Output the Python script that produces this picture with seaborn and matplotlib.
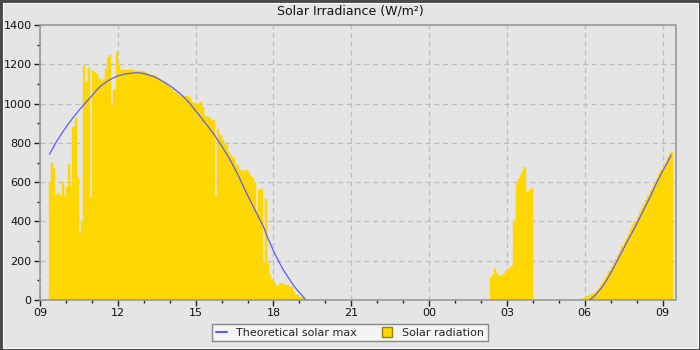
import numpy as np
import pandas as pd
import matplotlib
matplotlib.use("Agg")
import matplotlib.pyplot as plt
import seaborn as sns
from matplotlib.lines import Line2D
from matplotlib.patches import Rectangle
from matplotlib.ticker import MultipleLocator

# ---------------- data ----------------
title = "Solar Irradiance (W/m²)"
x_tick_labels = ["09", "12", "15", "18", "21", "00", "03", "06", "09"]
y_tick_values = [0, 200, 400, 600, 800, 1000, 1200, 1400]
legend_labels = ["Theoretical solar max", "Solar radiation"]

sample_minutes = 5  # solar radiation logged every 5 minutes

# day 1, starting 09:20
rad_day_start = ("09:20", 0)
rad_day = [600, 700, 670, 535, 543, 535, 599, 529, 576, 690,
           582, 880, 928, 619, 340, 400, 1190, 1110, 1180, 520,
           1165, 1160, 1150, 1125, 1115, 1125, 1175, 1230, 1245, 990,
           1070, 1265, 1200, 1172, 1170, 1170, 1170, 1170, 1170, 1170,
           1168, 1168, 1166, 1164, 1162, 1157, 1152, 1148, 1145, 1138,
           1130, 1120, 1115, 1110, 1100, 1090, 1080, 1072, 1060, 1052,
           1045, 1038, 1035, 1038, 1040, 1030, 1010, 1005, 1000, 1000,
           1010, 984, 935, 933, 930, 913, 915, 526, 870, 840,
           814, 800, 789, 755, 740, 721, 687, 680, 662, 658,
           658, 662, 645, 630, 620, 602, 458, 560, 565, 190,
           513, 187, 125, 100, 85, 73, 78, 85, 82, 78,
           78, 68, 68, 42, 25, 25, 15, 12, 8, 5]

# night, starting 02:20 next day
rad_night_start = ("02:20", 1)
rad_night = [115, 125, 160, 135, 122, 123, 133, 150, 159, 165,
             175, 400, 590, 615, 636, 655, 675, 548, 560, 572]

# next morning, starting 05:50
rad_morning_start = ("05:50", 1)
rad_morning = [3, 8, 17, 22, 25, 30, 36, 45, 60, 75,
               92, 105, 123, 148, 168, 187, 209, 230, 252, 273,
               295, 316, 338, 359, 381, 402, 424, 446, 467, 489,
               510, 532, 553, 575, 596, 618, 640, 661, 683, 704,
               726, 747, 755]

# theoretical maximum curve (first day, then next morning)
theo_day_times = ["09:22", "09:38", "09:54", "10:05", "10:17", "10:30", "10:44",
                  "11:00", "11:11", "11:22", "11:34", "11:47", "11:59", "12:15",
                  "12:32", "12:45", "12:55", "13:08", "13:22", "13:34", "13:45",
                  "13:57", "14:08", "14:20", "14:32", "14:44", "14:55", "15:08",
                  "15:24", "15:41", "16:00", "16:20", "16:40", "16:58", "17:18",
                  "17:37", "17:48", "18:00", "18:12", "18:23", "18:35", "18:46",
                  "18:55", "19:02", "19:08", "19:13"]
theo_day_vals = [742, 806, 860, 895, 930, 965, 1001,
                 1040, 1069, 1092, 1111, 1128, 1140, 1150,
                 1155, 1157, 1155, 1148, 1138, 1126, 1112,
                 1096, 1079, 1058, 1035, 1007, 977, 942,
                 897, 848, 785, 713, 628, 543, 455,
                 373, 310, 250, 197, 153, 112, 76,
                 50, 34, 18, 5]
theo_morning_times = ["06:11", "06:20", "06:28", "06:40", "06:51", "07:02", "07:14",
                      "07:26", "07:38", "07:50", "08:01", "08:12", "08:24", "08:36",
                      "08:47", "08:58", "09:10", "09:20"]
theo_morning_vals = [0, 15, 34, 65, 102, 145, 195,
                     246, 297, 345, 390, 440, 492, 548,
                     600, 648, 695, 738]


def to_hours(hhmm, day):
    h, m = map(int, hhmm.split(":"))
    return h + m / 60.0 - 9.0 + 24.0 * day


# ---------------- style ----------------
sns.set_theme(style="ticks")
plt.rcParams["font.family"] = ["DejaVu Sans"]

BG = "#e5e5e5"
GOLD = "#ffd700"
BLUE = "#5c5cff"
SPINE = "#999999"

fig = plt.figure(figsize=(7, 3.5), dpi=100, facecolor=BG)
ax = fig.add_axes([40 / 700, 1 - 300 / 350, 635.5 / 700, 275 / 350])
ax.set_facecolor(BG)

# bars
for (start, day), vals in [(rad_day_start, rad_day),
                           (rad_night_start, rad_night),
                           (rad_morning_start, rad_morning)]:
    t0 = to_hours(start, day)
    times = t0 + np.arange(len(vals)) * sample_minutes / 60.0
    ax.bar(times, vals, width=sample_minutes / 60.0, align="edge",
           color=GOLD, edgecolor=GOLD, linewidth=0.3, zorder=2)

# theoretical line
df_line = pd.DataFrame({
    "t": [to_hours(s, 0) for s in theo_day_times] + [to_hours(s, 1) for s in theo_morning_times],
    "v": theo_day_vals + theo_morning_vals,
    "seg": ["a"] * len(theo_day_times) + ["b"] * len(theo_morning_times),
})
sns.lineplot(data=df_line, x="t", y="v", units="seg", estimator=None, sort=False,
             color=BLUE, linewidth=0.9, ax=ax, legend=False, zorder=3)

# axes
ax.set_xlim(0, 24.5)
ax.set_ylim(0, 1400)
ax.set_xticks(np.arange(0, 25, 3))
ax.set_xticklabels(x_tick_labels)
ax.xaxis.set_minor_locator(MultipleLocator(1))
ax.set_yticks(y_tick_values)
ax.set_yticklabels([str(v) for v in y_tick_values])
ax.yaxis.set_minor_locator(MultipleLocator(100))
ax.set_xlabel("")
ax.set_ylabel("")
ax.tick_params(which="major", direction="out", length=4, width=1, color="#222222",
               labelsize=8, labelcolor="#111111", pad=2)
ax.tick_params(which="minor", direction="out", length=2.5, width=1, color="#222222")
ax.grid(True, which="major", linestyle=(0, (4, 3)), color="#bdbdbd", linewidth=0.9)
ax.set_axisbelow(True)
for sp in ax.spines.values():
    sp.set_visible(True)
    sp.set_color(SPINE)
    sp.set_linewidth(1.2)

fig.text(0.5, 1 - 11 / 350, title, ha="center", va="center", fontsize=9, color="#111111")

handles = [Line2D([], [], color=BLUE, lw=1.5),
           Line2D([], [], marker="s", linestyle="none", markerfacecolor=GOLD,
                  markeredgecolor="#9a8000", markersize=7)]
leg = fig.legend(handles, legend_labels, loc="lower center", bbox_to_anchor=(0.5, 3 / 350),
                 ncol=2, fontsize=8, frameon=True, fancybox=False, framealpha=1,
                 edgecolor="#888888", facecolor="#f4f4f4", borderpad=0.35,
                 handlelength=1.0, handletextpad=0.8, columnspacing=2.2)
leg.get_frame().set_linewidth(1)

# outer frame
fig.patches.append(Rectangle((0, 0), 1, 1, transform=fig.transFigure, fill=False,
                             edgecolor="#4a4a4a", linewidth=3.5, zorder=10))
fig.patches.append(Rectangle((2.5 / 700, 2.5 / 350), 1 - 5 / 700, 1 - 5 / 350,
                             transform=fig.transFigure, fill=False,
                             edgecolor="#ffffff", linewidth=0.7, zorder=10))

fig.savefig("out.png", dpi=100, facecolor=BG)
